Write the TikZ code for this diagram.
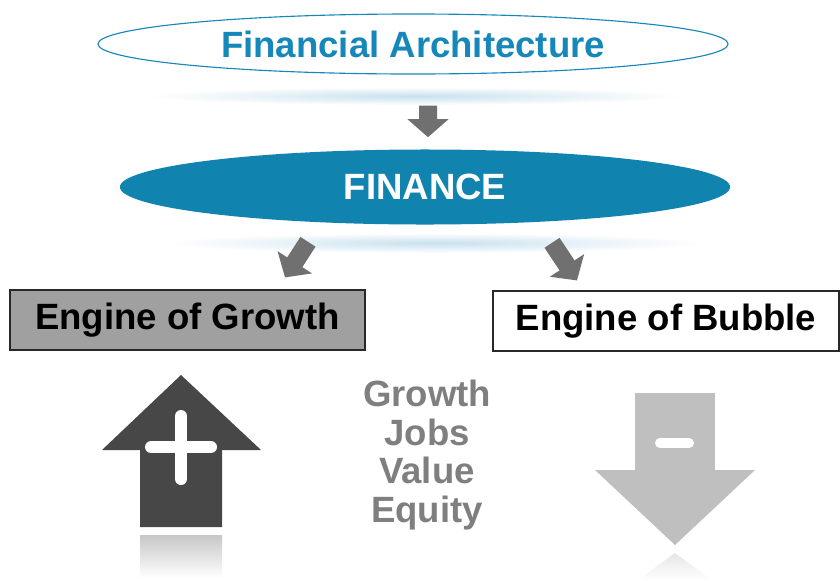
\documentclass[tikz,border=0pt]{standalone}
\usepackage{fontspec}
\setmainfont{Liberation Sans}
\usepackage{tikz}
\usetikzlibrary{shapes.geometric, arrows.meta, positioning, calc}
\definecolor{archblue}{RGB}{22,135,185}
\definecolor{finblue}{RGB}{16,131,174}
\definecolor{boxgray}{RGB}{160,160,160}
\definecolor{mydark}{RGB}{40,40,40}
\definecolor{uparrow}{RGB}{71,71,71}
\definecolor{downarrow}{RGB}{191,191,191}
\definecolor{arrowgray}{RGB}{112,112,112}
\definecolor{wordgray}{RGB}{127,127,127}
\definecolor{glowblue}{RGB}{200,225,238}
\tikzset{
  lbl/.style={font=\fontsize{26}{27.5}\selectfont\bfseries},
  ring/.style={ellipse, draw=archblue, thick, fill=white, lbl, text=archblue, minimum width=15.75cm, minimum height=1.5cm, inner sep=0pt},
  hub/.style={ellipse, fill=finblue, lbl, text=white, minimum width=15.25cm, minimum height=1.875cm, inner sep=0pt},
  block/.style={draw=mydark, thick, rectangle, lbl, text=black, minimum height=1.5cm, inner sep=0pt},
  arrow/.style={draw=arrowgray, line width=0.45cm, -{Triangle[width=1cm, length=0.45cm]}},
  sign/.style={draw=white, line width=0.3cm, line cap=round}
}
\begin{document}
\begin{tikzpicture}[x=0.025cm, y=-0.025cm]
  \useasboundingbox (0,0) rectangle (840,580);

  % glow under the two ellipses
  \shade [inner color=glowblue, outer color=white] (415,96) ellipse [x radius=270, y radius=9];
  \shade [inner color=glowblue, outer color=white] (435,243) ellipse [x radius=270, y radius=10];

  \node [ring] (arch) at (413,44) {Financial Architecture};
  \node [hub] (fin) at (425,187) {FINANCE};
  \node [block, fill=boxgray, minimum width=8.875cm] (grow) at (187.5,320) {Engine of Growth};
  \node [block, fill=white, minimum width=8.65cm] (bub) at (666,321) {Engine of Bubble};

  \draw [arrow] ([xshift=0.375cm, yshift=-0.775cm]arch.south) -- ([xshift=0.075cm, yshift=0.3cm]fin.north);
  \draw [arrow] ([xshift=-2.925cm, yshift=-0.425cm]fin.south) -- ([xshift=2.4375cm, yshift=0.3cm]grow.north);
  \draw [arrow] ([xshift=3.175cm, yshift=-0.45cm]fin.south) -- ([xshift=-2.225cm, yshift=0.25cm]bub.north);

  % up arrow with plus
  \shade [top color=black!22, bottom color=white] (140,535) rectangle (222,578);
  \fill [uparrow] (181,375) -- (261,450) -- (222,450) -- (222,527) -- (140,527) -- (140,450) -- (102,450) -- cycle;
  \draw [sign] (181,416) -- (181,479);
  \draw [sign] (151,447) -- (211,447);

  % down arrow with minus
  \shade [top color=black!10, bottom color=white] (675,553) -- (712,580) -- (638,580) -- cycle;
  \fill [downarrow] (635,393) rectangle (715,470);
  \fill [downarrow] (595,470) -- (755,470) -- (675,545) -- cycle;
  \draw [sign, line width=0.25cm] (660,443) -- (689,443);

  \node [lbl, text=wordgray, align=center] (words) at (427,455) {Growth\\Jobs\\Value\\Equity};
\end{tikzpicture}
\end{document}
